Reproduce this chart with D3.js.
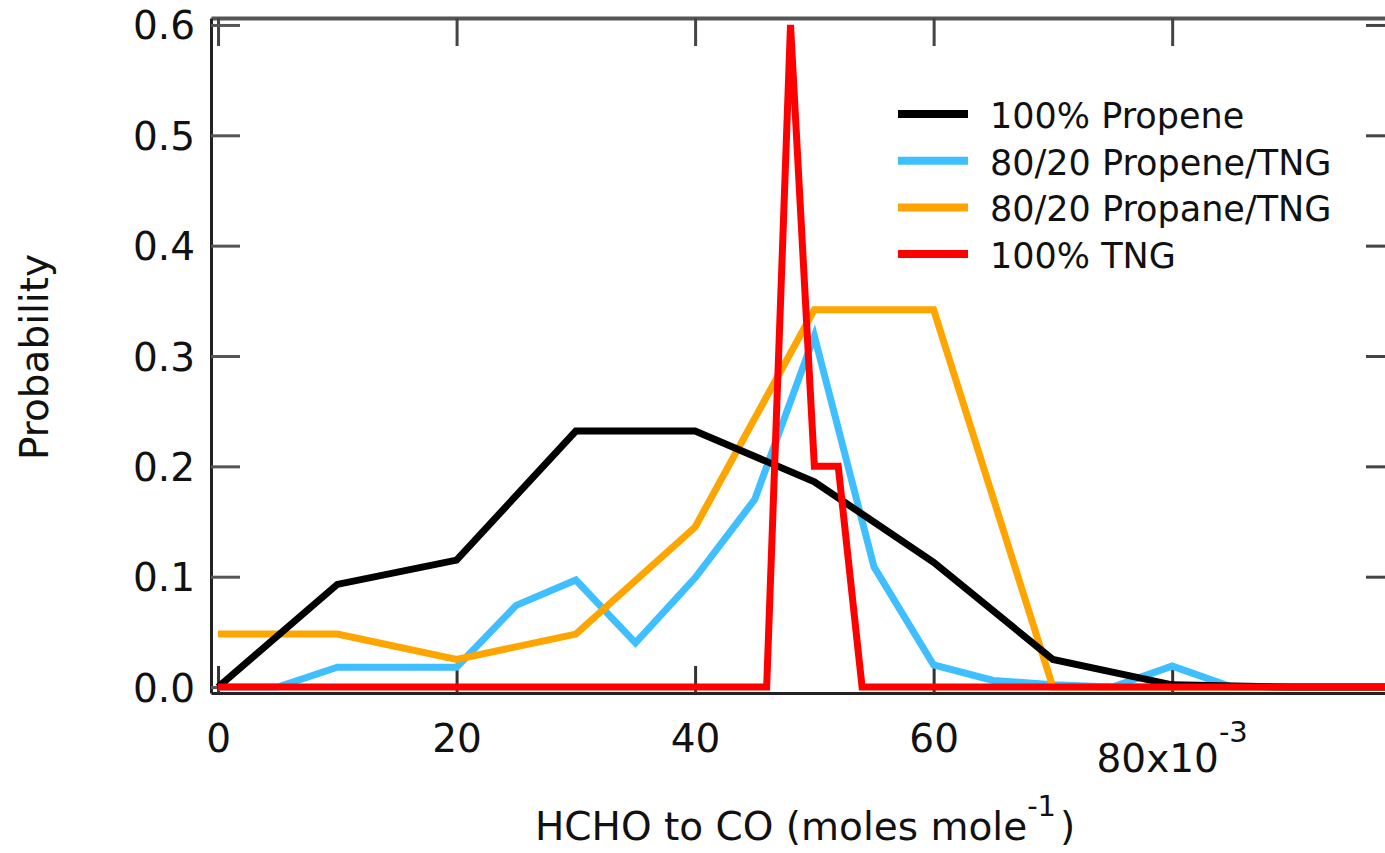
<!DOCTYPE html>
<html>
<head>
<meta charset="utf-8">
<script src="https://cdn.jsdelivr.net/npm/d3@7"></script>
<style>
  body { margin: 0; background: #fff; }
  svg { display: block; font-family: "DejaVu Sans", sans-serif; }
</style>
</head>
<body>
<svg id="chart" width="1385" height="853"></svg>
<script>
// Probability distributions of the HCHO/CO ratio (x10^-3 moles mole^-1)
const seriesNames  = ["100% Propene", "80/20 Propene/TNG", "80/20 Propane/TNG", "100% TNG"];
const seriesColors = ["#000000", "#3FBFFF", "#FFA500", "#FF0000"];

const propeneX = [0, 10, 20, 30, 40, 50, 60, 70, 80, 90, 98.6];
const propeneY = [0, 0.093, 0.115, 0.232, 0.232, 0.186, 0.113, 0.025, 0.002, 0, 0];

const propeneTngX = [0, 5, 10, 15, 20, 25, 30, 35, 40, 45, 50, 55, 60, 65, 70, 75, 80, 85, 90, 98.6];
const propeneTngY = [0, 0, 0.018, 0.018, 0.018, 0.074, 0.097, 0.040, 0.099, 0.170, 0.318, 0.109, 0.020, 0.006, 0.002, 0, 0.019, 0, 0, 0];

const propaneTngX = [0, 10, 20, 30, 40, 50, 55, 60, 70, 80, 90, 98.6];
const propaneTngY = [0.048, 0.048, 0.025, 0.048, 0.145, 0.342, 0.342, 0.342, 0, 0, 0, 0];

const tngX = [0, 46, 48, 50, 52, 54, 98.6];
const tngY = [0, 0, 0.6, 0.2, 0.2, 0, 0];

const xTicks = [0, 20, 40, 60, 80];
const yTicks = [0, 0.1, 0.2, 0.3, 0.4, 0.5, 0.6];

const svg = d3.select("#chart");

// plot frame: left axis at 211, right axis just past the visible edge
const x = d3.scaleLinear().domain([-0.59, 98.6]).range([211, 1394]);
const y = d3.scaleLinear().domain([-0.0054, 0.6063]).range([693, 18]);

const pair = (xs, ys) => xs.map((v, i) => [v, ys[i]]);
const series = [
  pair(propeneX, propeneY),
  pair(propeneTngX, propeneTngY),
  pair(propaneTngX, propaneTngY),
  pair(tngX, tngY)
];

// ---- axes (ticks point inward, mirrored on top and right) ----
const fs = 39;

const gTop = svg.append("g").attr("transform", `translate(0,${y.range()[1]})`)
  .call(d3.axisTop(x).tickValues(xTicks).tickSizeInner(-28).tickSizeOuter(0).tickFormat(""));
gTop.select(".domain").attr("stroke", "#555").attr("stroke-width", 4);
gTop.selectAll(".tick line").attr("stroke", "#444").attr("stroke-width", 3);

const gRight = svg.append("g").attr("transform", `translate(${x.range()[1]},0)`)
  .call(d3.axisRight(y).tickValues(yTicks).tickSizeInner(-28).tickSizeOuter(0).tickFormat(""));
gRight.select(".domain").attr("stroke", "#333").attr("stroke-width", 3);
gRight.selectAll(".tick line").attr("stroke", "#444").attr("stroke-width", 3);

const gLeft = svg.append("g").attr("transform", `translate(${x.range()[0]},0)`)
  .call(d3.axisLeft(y).tickValues(yTicks).tickSizeInner(-29).tickSizeOuter(0)
    .tickPadding(16).tickFormat(d3.format(".1f")));
gLeft.select(".domain").attr("stroke", "#222").attr("stroke-width", 3);
gLeft.selectAll(".tick line").attr("stroke", "#555").attr("stroke-width", 3);
gLeft.selectAll(".tick text").attr("font-size", fs).attr("fill", "#111")
  .attr("font-family", "DejaVu Sans, sans-serif").attr("dy", "0.36em");

const gBottom = svg.append("g").attr("transform", `translate(0,${y.range()[0]})`)
  .call(d3.axisBottom(x).tickValues(xTicks).tickSizeInner(-27).tickSizeOuter(0)
    .tickPadding(31).tickFormat(d => d === 80 ? "" : d));
gBottom.select(".domain").attr("stroke", "#222").attr("stroke-width", 3);
gBottom.selectAll(".tick line").attr("stroke", "#333").attr("stroke-width", 3);
gBottom.selectAll(".tick text").attr("font-size", fs).attr("fill", "#111")
  .attr("font-family", "DejaVu Sans, sans-serif");

// last tick carries the axis multiplier
const lab80 = svg.append("text")
  .attr("x", x(80)).attr("y", 772)
  .attr("text-anchor", "middle")
  .attr("font-size", fs).attr("fill", "#111");
lab80.append("tspan").text("80x10");
lab80.append("tspan").attr("font-size", 29).attr("dy", -30).text("-3");

// ---- series ----
const line = d3.line().x(d => x(d[0])).y(d => y(d[1]));
const drawOrder = [1, 2, 0, 3];
const gLines = svg.append("g");
drawOrder.forEach(i => {
  gLines.append("path")
    .datum(series[i])
    .attr("d", line)
    .attr("fill", "none")
    .attr("stroke", seriesColors[i])
    .attr("stroke-width", 7)
    .attr("stroke-linejoin", "miter");
});

// ---- legend ----
const legend = svg.append("g");
seriesNames.forEach((name, i) => {
  const ly = 114 + i * 46.7;
  legend.append("line")
    .attr("x1", 898).attr("x2", 968).attr("y1", ly).attr("y2", ly)
    .attr("stroke", seriesColors[i]).attr("stroke-width", 8);
  legend.append("text")
    .attr("x", 990).attr("y", ly + 14)
    .attr("font-size", 35).attr("fill", "#111")
    .text(name);
});

// ---- axis titles ----
const xTitle = svg.append("text")
  .attr("x", 535).attr("y", 840)
  .attr("font-size", fs).attr("fill", "#111");
xTitle.append("tspan").text("HCHO to CO (moles mole");
xTitle.append("tspan").attr("font-size", 29).attr("dy", -24).text("-1");
xTitle.append("tspan").attr("dy", 24).attr("dx", 4).text(")");

svg.append("text")
  .attr("transform", "translate(48,357) rotate(-90)")
  .attr("text-anchor", "middle")
  .attr("font-size", fs).attr("fill", "#111")
  .text("Probability");
</script>
</body>
</html>
